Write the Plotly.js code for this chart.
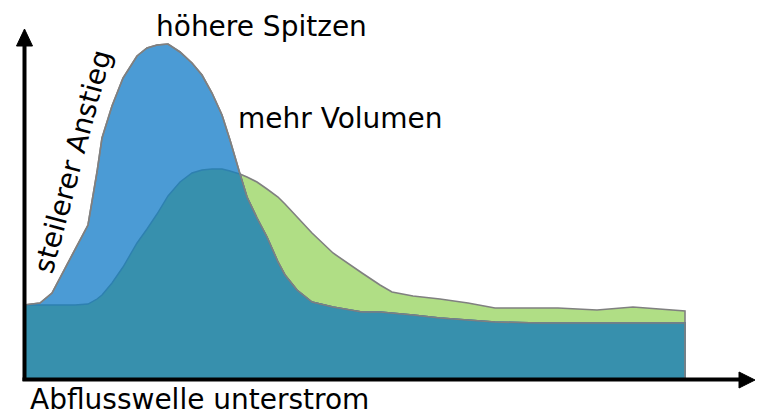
<!DOCTYPE html>
<html>
<head>
<meta charset="utf-8">
<script src="https://cdn.plot.ly/plotly-3.0.1.min.js"></script>
<style>html,body{margin:0;padding:0;background:#fff;}#chart{width:761px;height:415px;}</style>
</head>
<body>
<div id="chart"></div>
<script>
// Time (arbitrary units) and discharge (arbitrary units)
var zeit = [0, 1.6, 2.8, 3.9, 5.1, 6.4, 7.3, 7.8, 8.8, 9.9, 11.3, 12.3, 13.3, 14.4, 15.6, 16.8, 17.8, 18.8, 19.8, 20.6,
            21.6, 22.3, 23.3, 24.3, 25.4, 26.1, 27.3, 28.8, 30.9, 32.6, 33.8, 35.6, 36.8, 38.9, 41.6, 44.4, 47.1, 51.6,
            53.4, 57.3, 58.9, 60.9, 66.1, 66.1];
// steep wave with higher peak (blue)
var welleSpitze = [7.3, 7.5, 8.5, 10.6, 12.8, 15.3, 20.6, 24.0, 27.2, 30.0, 32.2, 33.0, 33.3, 33.4, 32.6, 31.5, 30.3, 28.5, 26.3, 23.8,
                   20.4, 18.1, 16.0, 14.1, 11.6, 10.3, 8.8, 7.6, 7.1, 6.8, 6.6, 6.6, 6.5, 6.3, 6.0, 5.8, 5.6, 5.5,
                   5.5, 5.5, 5.5, 5.5, 5.5, 0];
// flatter wave with more volume (green)
var welleVolumen = [7.3, 7.3, 7.3, 7.3, 7.3, 7.4, 7.9, 8.3, 9.5, 11.1, 13.5, 14.9, 16.4, 18.2, 19.6, 20.5, 20.8, 20.9, 20.9, 20.7,
                    20.4, 20.1, 19.6, 18.9, 18.1, 17.4, 16.1, 14.5, 12.5, 11.3, 10.5, 9.3, 8.6, 8.2, 7.9, 7.5, 7.0, 7.0,
                    7.0, 6.8, 6.9, 7.1, 6.7, 0];
var labels = {
  peak: "höhere Spitzen",
  volume: "mehr Volumen",
  rise: "steilerer Anstieg",
  xTitle: "Abflusswelle unterstrom"
};

// overlap of both waves
var overlap = welleSpitze.map(function (v, i) { return Math.min(v, welleVolumen[i]); });

var W = 761, H = 415;
function px(x) { return x / W; }
function py(y) { return 1 - y / H; }

var gray = "#808080";
var traces = [
  {x: zeit, y: welleVolumen, type: "scatter", mode: "lines", fill: "tozeroy",
   fillcolor: "#b0de85", line: {color: gray, width: 1.6}, hoverinfo: "skip"},
  {x: zeit, y: welleSpitze, type: "scatter", mode: "lines", fill: "tozeroy",
   fillcolor: "#4b9bd5", line: {color: gray, width: 1.6}, hoverinfo: "skip"},
  {x: zeit, y: overlap, type: "scatter", mode: "lines", fill: "tozeroy",
   fillcolor: "#3790ad", line: {color: "#2e80b0", width: 1.4}, hoverinfo: "skip"},
  {x: zeit, y: welleSpitze, type: "scatter", mode: "lines",
   line: {color: gray, width: 1.6}, hoverinfo: "skip"}
];

var font = {family: "DejaVu Sans", size: 28, color: "#000"};
var layout = {
  width: W, height: H,
  margin: {l: 0, r: 0, t: 0, b: 0},
  paper_bgcolor: "#fff", plot_bgcolor: "#fff",
  showlegend: false,
  xaxis: {range: [-2.4, 73.7], visible: false, fixedrange: true},
  yaxis: {range: [-3.7, 37.8], visible: false, fixedrange: true},
  shapes: [
    {type: "line", xref: "paper", yref: "paper", x0: px(24.5), x1: px(24.5), y0: py(381), y1: py(44),
     line: {color: "#000", width: 4}},
    {type: "path", xref: "paper", yref: "paper",
     path: "M" + px(16.5) + "," + py(46) + " L" + px(24.5) + "," + py(29) + " L" + px(32.5) + "," + py(46) + " Z",
     fillcolor: "#000", line: {color: "#000", width: 1}},
    {type: "line", xref: "paper", yref: "paper", x0: px(22.5), x1: px(741), y0: py(379.5), y1: py(379.5),
     line: {color: "#000", width: 4}},
    {type: "path", xref: "paper", yref: "paper",
     path: "M" + px(739) + "," + py(372) + " L" + px(755) + "," + py(380) + " L" + px(739) + "," + py(388) + " Z",
     fillcolor: "#000", line: {color: "#000", width: 1}}
  ],
  annotations: [
    {text: labels.peak, xref: "paper", yref: "paper", x: px(261.5), y: py(26), showarrow: false,
     xanchor: "center", yanchor: "middle", font: font},
    {text: labels.volume, xref: "paper", yref: "paper", x: px(340.5), y: py(119), showarrow: false,
     xanchor: "center", yanchor: "middle", font: font},
    {text: labels.xTitle, xref: "paper", yref: "paper", x: px(199.5), y: py(399), showarrow: false,
     xanchor: "center", yanchor: "middle", font: font},
    {text: labels.rise, xref: "paper", yref: "paper", x: px(72), y: py(162), showarrow: false,
     xanchor: "center", yanchor: "middle", textangle: -75, font: font}
  ]
};

Plotly.newPlot("chart", traces, layout, {displayModeBar: false, staticPlot: true});
</script>
</body>
</html>
